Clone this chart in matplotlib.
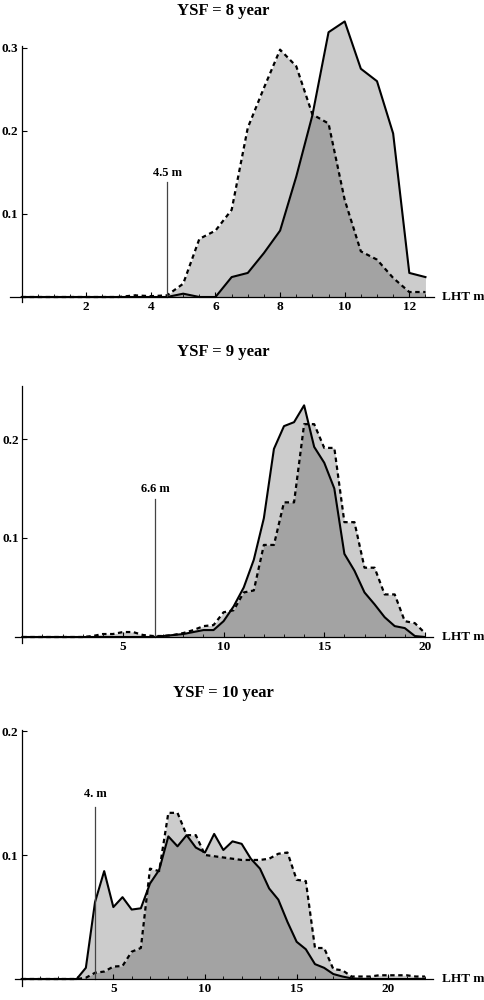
import numpy as np
import matplotlib
matplotlib.use("Agg")
import matplotlib.pyplot as plt
from matplotlib.ticker import FixedLocator

plt.rcParams['font.family'] = ['Liberation Serif', 'DejaVu Serif']
plt.rcParams['font.weight'] = 'bold'

W, H = 484, 1000

# ---- data (step 0.5 m) ----
lht_8 = np.arange(0, 12.51, 0.5)
dashed_8 = [0, 0, 0, 0, 0, 0, 0, 0.002, 0.001, 0.002, 0.016, 0.070, 0.080,
            0.105, 0.204, 0.252, 0.298, 0.278, 0.220, 0.209, 0.117, 0.055,
            0.045, 0.023, 0.006, 0.006]
solid_8 = [0, 0, 0, 0, 0, 0, 0, 0, 0, 0, 0.004, 0, 0, 0.024, 0.029, 0.053,
           0.080, 0.145, 0.219, 0.319, 0.332, 0.275, 0.260, 0.197, 0.029, 0.024]

lht_9 = np.arange(0, 20.01, 0.5)
dashed_9 = [0, 0, 0, 0, 0, 0, 0, 0.001, 0.003, 0.003, 0.005, 0.005, 0.002,
            0.001, 0.001, 0.002, 0.004, 0.007, 0.011, 0.012, 0.025, 0.027,
            0.045, 0.047, 0.093, 0.093, 0.136, 0.136, 0.215, 0.215, 0.191,
            0.191, 0.116, 0.116, 0.070, 0.070, 0.043, 0.043, 0.016, 0.014, 0.004]
solid_9 = [0, 0, 0, 0, 0, 0, 0, 0, 0, 0, 0, 0, 0, 0, 0.001, 0.002, 0.003,
           0.005, 0.007, 0.007, 0.016, 0.031, 0.050, 0.078, 0.120, 0.190,
           0.213, 0.217, 0.234, 0.192, 0.176, 0.150, 0.084, 0.067, 0.045,
           0.033, 0.020, 0.011, 0.009, 0.001, 0]

lht_10 = np.arange(0, 22.01, 0.5)
dashed_10 = [0, 0, 0, 0, 0, 0, 0, 0.001, 0.005, 0.006, 0.010, 0.0105, 0.022,
             0.025, 0.089, 0.087, 0.134, 0.134, 0.116, 0.116, 0.100, 0.099,
             0.098, 0.097, 0.096, 0.096, 0.096, 0.097, 0.101, 0.102, 0.080,
             0.079, 0.025, 0.025, 0.008, 0.007, 0.002, 0.002, 0.002, 0.003,
             0.003, 0.003, 0.003, 0.002, 0.002]
solid_10 = [0, 0, 0, 0, 0, 0, 0, 0.009, 0.062, 0.087, 0.058, 0.066, 0.056,
            0.057, 0.077, 0.088, 0.115, 0.107, 0.116, 0.106, 0.102, 0.117,
            0.104, 0.111, 0.109, 0.097, 0.089, 0.073, 0.064, 0.046, 0.030,
            0.024, 0.012, 0.009, 0.004, 0.002, 0.0005, 0, 0, 0, 0, 0, 0, 0, 0]

titles = ["YSF = 8 year", "YSF = 9 year", "YSF = 10 year"]
marks = [4.5, 6.6, 4.0]
mark_labels = ["4.5 m", "6.6 m", "4. m"]

# ---- layout in pixels: origin and px per unit for each panel ----
panels = [
    dict(x=lht_8, d=dashed_8, s=solid_8, ox=21.7, sx=32.3, oy=297.0, sy=830.0,
         xlim=(-0.3, 13.0), ylim=(-0.012, 0.345), xend=12.75, ytop=0.302,
         major=2, minor=0.5, yticks=[0.1, 0.2, 0.3], title_y=11),
    dict(x=lht_9, d=dashed_9, s=solid_9, ox=22.3, sx=20.13, oy=637.0, sy=990.0,
         xlim=(-0.45, 20.8), ylim=(-0.012, 0.265), xend=20.4, ytop=0.254,
         major=5, minor=1, yticks=[0.1, 0.2], title_y=352),
    dict(x=lht_10, d=dashed_10, s=solid_10, ox=21.7, sx=18.33, oy=979.0, sy=1240.0,
         xlim=(-0.45, 23.0), ylim=(-0.01, 0.215), xend=22.45, ytop=0.201,
         major=5, minor=1, yticks=[0.1, 0.2], title_y=693),
]

fig = plt.figure(figsize=(W / 100, H / 100), dpi=100)

for p, title, mk, mlab in zip(panels, titles, marks, mark_labels):
    L = p['ox'] + p['xlim'][0] * p['sx']
    R = p['ox'] + p['xlim'][1] * p['sx']
    B = p['oy'] - p['ylim'][0] * p['sy']
    T = p['oy'] - p['ylim'][1] * p['sy']
    ax = fig.add_axes([L / W, 1 - B / H, (R - L) / W, (B - T) / H])
    ax.set_xlim(p['xlim'])
    ax.set_ylim(p['ylim'])

    x = p['x']
    # two translucent fills -> light grey where one curve, darker where both
    ax.fill_between(x, 0, p['d'], color='black', alpha=0.2, linewidth=0)
    ax.fill_between(x, 0, p['s'], color='black', alpha=0.2, linewidth=0)
    ax.plot(x, p['s'], color='black', lw=1.5)
    ax.plot(x, p['d'], color='black', lw=1.6, linestyle=(0, (2.0, 1.6)))

    ax.plot([mk, mk], [0, 0.139], color='#444444', lw=0.9)
    ax.text(mk, 0.149, mlab, ha='center', va='center', fontsize=9,
            fontweight='bold')

    for side in ['top', 'right']:
        ax.spines[side].set_visible(False)
    ax.spines['left'].set_position(('data', 0))
    ax.spines['bottom'].set_position(('data', 0))
    ax.spines['left'].set_bounds(-0.006, p['ytop'])
    ax.spines['bottom'].set_bounds(-0.35, p['xend'])
    ax.spines['left'].set_linewidth(0.9)
    ax.spines['bottom'].set_linewidth(0.9)

    ax.set_xticks(np.arange(p['major'], p['xend'], p['major']))
    ax.xaxis.set_minor_locator(FixedLocator(np.arange(p['minor'], p['xend'], p['minor'])))
    ax.set_yticks(p['yticks'])
    ax.set_yticklabels([f"{v:.1f}" for v in p['yticks']])
    ax.tick_params(axis='x', which='major', direction='in', length=3.5,
                   width=0.8, pad=3, labelsize=9.5)
    ax.tick_params(axis='x', which='minor', direction='in', length=2,
                   width=0.6)
    ax.tick_params(axis='y', which='major', direction='in', length=3.5,
                   width=0.8, pad=2.5, labelsize=9.5)

    ax.text((441.7 - p['ox']) / p['sx'], 0, "LHT m", ha='left', va='center',
            fontsize=9.5, fontweight='bold', clip_on=False)

    fig.text(223 / W, 1 - p['title_y'] / H, title, ha='center', va='center',
             fontsize=12, fontweight='bold')

fig.savefig("out.png", dpi=100, facecolor='white')
